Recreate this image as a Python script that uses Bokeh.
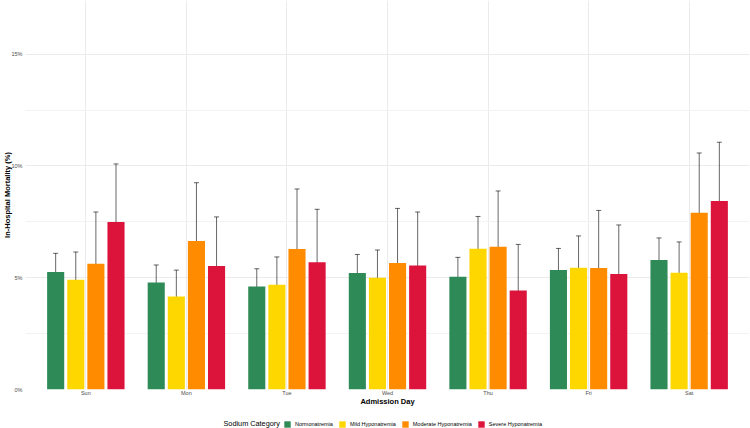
from bokeh.plotting import figure
from bokeh.layouts import column
from bokeh.models import (ColumnDataSource, FactorRange, Range1d, FixedTicker,
                          PrintfTickFormatter, Whisker, TeeHead, Legend, LegendItem, Label)
from bokeh.transform import dodge
from bokeh.embed import file_html
from bokeh.resources import INLINE

# Admission day categories
days = ["Sun", "Mon", "Tue", "Wed", "Thu", "Fri", "Sat"]

# Sodium categories and their colours
categories = ["Normonatremia", "Mild Hyponatremia", "Moderate Hyponatremia", "Severe Hyponatremia"]
colors = ["#2E8B57", "#FFD700", "#FF8C00", "#DC143C"]

# In-hospital mortality (%) with 95% CI per day
normo = [5.26, 4.79, 4.61, 5.21, 5.04, 5.34, 5.79]
normo_lo = [4.54, 4.12, 3.96, 4.49, 4.31, 4.54, 4.94]
normo_hi = [6.09, 5.57, 5.40, 6.04, 5.91, 6.31, 6.78]

mild = [4.91, 4.16, 4.69, 5.00, 6.30, 5.45, 5.22]
mild_lo = [3.91, 3.22, 3.67, 3.96, 5.08, 4.28, 4.10]
mild_hi = [6.15, 5.34, 5.93, 6.24, 7.74, 6.87, 6.60]

moderate = [5.63, 6.64, 6.28, 5.66, 6.39, 5.43, 7.91]
moderate_lo = [3.87, 4.58, 4.23, 3.82, 4.45, 3.51, 5.75]
moderate_hi = [7.94, 9.25, 8.97, 8.10, 8.88, 8.01, 10.58]

severe = [7.49, 5.52, 5.69, 5.55, 4.43, 5.17, 8.43]
severe_lo = [5.43, 3.82, 3.89, 3.73, 2.91, 3.51, 6.31]
severe_hi = [10.09, 7.72, 8.06, 7.94, 6.49, 7.36, 11.06]

series = [
    (normo, normo_lo, normo_hi),
    (mild, mild_lo, mild_hi),
    (moderate, moderate_lo, moderate_hi),
    (severe, severe_lo, severe_hi),
]
offsets = [-0.3, -0.1, 0.1, 0.3]

FONT = "Liberation Sans"
GREY = "#4d4d4d"

# ---- main chart ----
p = figure(
    width=750, height=410,
    x_range=FactorRange(factors=days, range_padding=0.1, range_padding_units="absolute"),
    y_range=Range1d(0, 17.4),
    output_backend="svg", toolbar_location=None,
    min_border_left=25, min_border_right=1, min_border_top=0, min_border_bottom=21,
)
p.outline_line_color = None
p.background_fill_color = "white"
p.border_fill_color = "white"

for (vals, lo, hi), off, col in zip(series, offsets, colors):
    src = ColumnDataSource(dict(day=days, val=vals, lo=lo, hi=hi))
    xs = dodge("day", off, range=p.x_range)
    p.vbar(x=xs, top="val", width=0.17, source=src, fill_color=col, line_color=None)
    head = dict(size=5, line_color="black", line_alpha=0.6, line_width=1)
    p.add_layout(Whisker(base=xs, upper="hi", lower="lo", source=src,
                         line_color="black", line_alpha=0.6, line_width=1,
                         upper_head=TeeHead(**head), lower_head=TeeHead(**head)))

# Axes
p.yaxis.ticker = FixedTicker(ticks=[0, 5, 10, 15], minor_ticks=[2.5, 7.5, 12.5])
p.yaxis.formatter = PrintfTickFormatter(format="%d%%")
for ax in (p.xaxis[0], p.yaxis[0]):
    ax.axis_line_color = None
    ax.major_tick_line_color = None
    ax.minor_tick_line_color = None
    ax.major_tick_out = 0
    ax.minor_tick_out = 0
    ax.major_label_text_font = FONT
    ax.major_label_text_font_size = "5.5px"
    ax.major_label_text_color = GREY
    ax.axis_label_text_font = FONT
    ax.axis_label_text_font_size = "7.5px"
    ax.axis_label_text_font_style = "bold"
    ax.axis_label_text_color = "black"
p.xaxis.axis_label = "Admission Day"
p.yaxis.axis_label = "In-Hospital Mortality (%)"
p.xaxis.major_label_standoff = 0
p.xaxis.axis_label_standoff = -2
p.yaxis.major_label_standoff = 3
p.yaxis.axis_label_standoff = -4

# Grid
p.xgrid.grid_line_color = "#ebebeb"
p.ygrid.grid_line_color = "#ebebeb"
p.ygrid.minor_grid_line_color = "#f3f3f3"

# ---- legend strip (its frame lines up with the chart's frame) ----
lp = figure(width=750, height=18, x_range=Range1d(0, 750), y_range=Range1d(0, 18),
            x_axis_type=None, y_axis_type=None,
            output_backend="svg", toolbar_location=None,
            min_border_left=0, min_border_right=0, min_border_top=0, min_border_bottom=0)
lp.grid.visible = False
lp.outline_line_color = None

items = []
for col, name in zip(colors, categories):
    # swatch carriers, kept outside the visible range
    r = lp.vbar(x=[-10], top=[0], width=1, fill_color=col, line_color=None)
    items.append(LegendItem(label=name, renderers=[r]))

legend = Legend(items=items, orientation="horizontal", location=(258, 0),
                label_text_font=FONT, label_text_font_size="5.5px", label_text_color="black",
                label_height=8, glyph_width=8, glyph_height=8, label_standoff=4, spacing=5,
                padding=0, margin=0, border_line_color=None, background_fill_alpha=0)
lp.add_layout(legend)
lp.add_layout(Label(x=198, y=5, x_units="screen", y_units="screen",
                    text="Sodium Category", text_font=FONT,
                    text_font_size="7.3px", text_color="black",
                    text_baseline="middle", text_align="left"))

layout = column(p, lp, spacing=0)
open("out.html", "w").write(file_html(layout, INLINE))
